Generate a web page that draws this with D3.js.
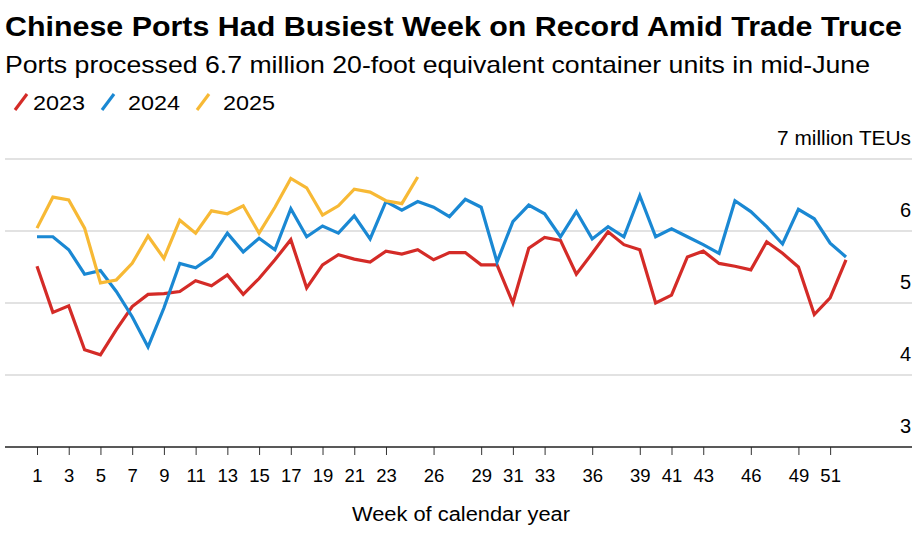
<!DOCTYPE html>
<html><head><meta charset="utf-8">
<script src="https://cdn.jsdelivr.net/npm/d3@7"></script>
<style>
body{margin:0;background:#fff;}
svg{display:block;}
</style></head><body>
<svg id="c" width="921" height="533"></svg>
<script>
const weeks = d3.range(1, 53);
const s2023 = [5.51,4.87,4.96,4.35,4.28,4.63,4.95,5.12,5.13,5.16,5.31,5.24,5.39,5.12,5.34,5.6,5.88,5.21,5.53,5.67,5.61,5.57,5.72,5.68,5.74,5.6,5.70,5.70,5.53,5.53,5.0,5.76,5.91,5.87,5.40,5.69,5.99,5.81,5.74,5.0,5.11,5.64,5.72,5.55,5.51,5.46,5.85,5.69,5.50,4.84,5.07,5.6];
const s2024 = [5.92,5.92,5.74,5.40,5.45,5.16,4.81,4.39,4.93,5.55,5.49,5.64,5.97,5.71,5.90,5.74,6.31,5.92,6.07,5.97,6.21,5.89,6.41,6.29,6.41,6.33,6.2,6.44,6.33,5.57,6.13,6.36,6.24,5.92,6.27,5.89,6.06,5.92,6.49,5.92,6.03,5.92,5.81,5.69,6.42,6.27,6.06,5.82,6.3,6.17,5.83,5.64];
const s2025 = [6.04,6.47,6.43,6.04,5.28,5.32,5.55,5.93,5.62,6.15,5.97,6.28,6.24,6.35,5.97,6.33,6.73,6.6,6.22,6.35,6.58,6.54,6.42,6.38,6.75];
const seriesNames = ["2023","2024","2025"];
const seriesColors = ["#d42b27","#1a88d3","#f7b935"];
const yTicks = [3,4,5,6,7];
const xTickLabels = [1,3,5,7,9,11,13,15,17,19,21,23,26,29,31,33,36,39,41,43,46,49,51];

const svg = d3.select("#c");
const font = "'Liberation Sans', Arial, sans-serif";

svg.append("text").attr("x",5).attr("y",36).attr("font-family",font).attr("font-weight","bold")
  .attr("font-size",28.5).attr("fill","#000").attr("textLength",897).attr("lengthAdjust","spacingAndGlyphs")
  .text("Chinese Ports Had Busiest Week on Record Amid Trade Truce");
svg.append("text").attr("x",5).attr("y",73).attr("font-family",font)
  .attr("font-size",24).attr("fill","#000").attr("textLength",865).attr("lengthAdjust","spacingAndGlyphs")
  .text("Ports processed 6.7 million 20-foot equivalent container units in mid-June");

// legend
const legX = [14,101,196];
seriesNames.forEach((n,i)=>{
  const g = svg.append("g").attr("transform",`translate(${legX[i]},0)`);
  g.append("line").attr("x1",1).attr("y1",110).attr("x2",13).attr("y2",94)
    .attr("stroke",seriesColors[i]).attr("stroke-width",3.2);
  g.append("text").attr("x",i===0?19:27).attr("y",110).attr("font-family",font).attr("font-size",21)
    .attr("fill","#000").attr("textLength",52).attr("lengthAdjust","spacingAndGlyphs").text(n);
});

const x = d3.scaleLinear().domain([1,52]).range([37,846]);
const y = d3.scaleLinear().domain([3,7]).range([447,159]);

// gridlines
svg.append("g").selectAll("line").data(yTicks.filter(t=>t>3)).join("line")
  .attr("x1",5).attr("x2",912).attr("y1",d=>y(d)).attr("y2",d=>y(d))
  .attr("stroke","#d9d9d9").attr("stroke-width",1.3);

// y labels
svg.append("g").selectAll("text").data(yTicks).join("text")
  .attr("x",911).attr("y",d=>y(d)-14).attr("text-anchor","end")
  .attr("font-family",font).attr("font-size",20).attr("fill","#000")
  .each(function(d){ if(d===7) d3.select(this).attr("textLength",134).attr("lengthAdjust","spacingAndGlyphs"); })
  .text(d=>d===7?"7 million TEUs":d);

// x axis
const xAxis = d3.axisBottom(x).tickValues(xTickLabels).tickSize(8).tickPadding(14).tickFormat(d3.format("d"));
const ax = svg.append("g").attr("transform",`translate(0,${y(3)})`).call(xAxis);
ax.select(".domain").remove();
ax.selectAll(".tick line").attr("stroke","#333").attr("stroke-width",1);
ax.selectAll(".tick text").attr("font-family",font)
  .attr("font-size",18.5).attr("fill","#000");
svg.append("line").attr("x1",5).attr("x2",912).attr("y1",y(3)).attr("y2",y(3))
  .attr("stroke","#222").attr("stroke-width",1.5);

svg.append("text").attr("x",461).attr("y",521).attr("text-anchor","middle")
  .attr("font-family",font).attr("font-size",20).attr("textLength",218).attr("lengthAdjust","spacingAndGlyphs")
  .attr("fill","#000").text("Week of calendar year");

const line = d3.line().x((d,i)=>x(weeks[i])).y(d=>y(d)).curve(d3.curveLinear);
[s2023,s2024,s2025].forEach((s,i)=>{
  svg.append("path").datum(s).attr("d",line).attr("fill","none")
    .attr("stroke",seriesColors[i]).attr("stroke-width",3.2).attr("stroke-linejoin","miter").attr("stroke-linecap","butt");
});
</script>
</body></html>
